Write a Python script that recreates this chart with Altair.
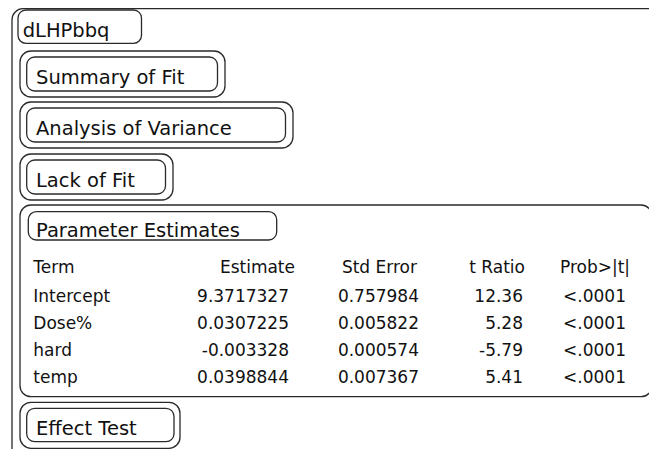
import altair as alt
import pandas as pd

# ---- content ----
report_title = "dLHPbbq"
closed_sections = ["Summary of Fit", "Analysis of Variance", "Lack of Fit"]
open_section = "Parameter Estimates"
last_section = "Effect Test"
headers = ["Term", "Estimate", "Std Error", "t Ratio", "Prob>|t|"]
terms = ["Intercept", "Dose%", "hard", "temp"]
estimates = ["9.3717327", "0.0307225", "-0.003328", "0.0398844"]
std_errors = ["0.757984", "0.005822", "0.000574", "0.007367"]
t_ratios = ["12.36", "5.28", "-5.79", "5.41"]
probs = ["<.0001", "<.0001", "<.0001", "<.0001"]

# ---- layout (page pixel space of the report) ----
W, H = 641, 441
M = 8  # page margin
FONT = "DejaVu Sans"
TITLE_FS = 19.5
TABLE_FS = 17
INK = "#111111"
LINE = "#2a2a2a"

closed_rights = [225, 293, 173]
closed_tops = [51, 102, 154]
box_h, inner_off = 46, 6
title_x = 36

boxes_outer = []   # larger radius
boxes_inner = []   # smaller radius
texts_left, texts_right, texts_center = [], [], []

# outer report frame (right and bottom run off the page)
boxes_outer.append(dict(x1=12, y1=8.7, x2=700, y2=470))
# title box
boxes_inner.append(dict(x1=18, y1=10, x2=141.5, y2=43.3))
texts_left.append(dict(label=report_title, x=22.7, y=37, fs=TITLE_FS))

for name, right, top in zip(closed_sections, closed_rights, closed_tops):
    boxes_outer.append(dict(x1=20, y1=top, x2=right, y2=top + box_h))
    boxes_inner.append(dict(x1=20 + inner_off + 0.7, y1=top + inner_off,
                            x2=right - inner_off - 1.5, y2=top + box_h - inner_off))
    texts_left.append(dict(label=name, x=title_x, y=top + 32.5, fs=TITLE_FS))

# Parameter Estimates (open)
boxes_outer.append(dict(x1=20, y1=205, x2=652, y2=396.7))
boxes_inner.append(dict(x1=28.3, y1=211.7, x2=276.7, y2=240))
texts_left.append(dict(label=open_section, x=title_x, y=236.5, fs=TITLE_FS))

# Effect Test (closed)
boxes_outer.append(dict(x1=20, y1=402.3, x2=180, y2=448.3))
boxes_inner.append(dict(x1=26.7, y1=408.3, x2=174, y2=441.7))
texts_left.append(dict(label=last_section, x=title_x, y=435, fs=TITLE_FS))

# table
header_y = 273.3
row_pitch = 27.0
first_row_y = 301.5
term_x = 33.3
col_right_values = {"Estimate": 289, "Std Error": 419, "t Ratio": 523}
col_right_headers = {"Estimate": 295, "Std Error": 417, "t Ratio": 525}
prob_center_values, prob_center_header = 594.5, 595

texts_left.append(dict(label=headers[0], x=term_x, y=header_y, fs=TABLE_FS))
for h in headers[1:4]:
    texts_right.append(dict(label=h, x=col_right_headers[h], y=header_y, fs=TABLE_FS))
texts_center.append(dict(label=headers[4], x=prob_center_header, y=header_y, fs=TABLE_FS))

for i, term in enumerate(terms):
    yy = first_row_y + i * row_pitch
    texts_left.append(dict(label=term, x=term_x, y=yy, fs=TABLE_FS))
    for h, col in zip(headers[1:4], [estimates, std_errors, t_ratios]):
        texts_right.append(dict(label=col[i], x=col_right_values[h], y=yy, fs=TABLE_FS))
    texts_center.append(dict(label=probs[i], x=prob_center_values, y=yy, fs=TABLE_FS))

xs = alt.Scale(domain=[M, M + W], range=[0, W])
ys = alt.Scale(domain=[M, M + H], range=[0, H])


def rect_layer(rows, radius):
    df = pd.DataFrame(rows)
    return alt.Chart(df).mark_rect(
        cornerRadius=radius, fillOpacity=0, stroke=LINE, strokeWidth=1.3
    ).encode(
        x=alt.X("x1:Q", scale=xs, axis=None),
        x2="x2:Q",
        y=alt.Y("y1:Q", scale=ys, axis=None),
        y2="y2:Q",
    )


def text_layer(rows, align):
    df = pd.DataFrame(rows)
    return alt.Chart(df).mark_text(
        align=align, baseline="alphabetic", font=FONT, color=INK
    ).encode(
        x=alt.X("x:Q", scale=xs, axis=None),
        y=alt.Y("y:Q", scale=ys, axis=None),
        text="label:N",
        size=alt.Size("fs:Q", scale=None, legend=None),
    )


chart = alt.layer(
    rect_layer(boxes_outer, 11),
    rect_layer(boxes_inner, 8),
    text_layer(texts_left, "left"),
    text_layer(texts_right, "right"),
    text_layer(texts_center, "center"),
).properties(
    width=W, height=H, padding=0, autosize=alt.AutoSizeParams(type="none"),
    background="white",
).configure_view(strokeWidth=0)

chart.save("out.html", embed_options={"renderer": "svg", "actions": False})
